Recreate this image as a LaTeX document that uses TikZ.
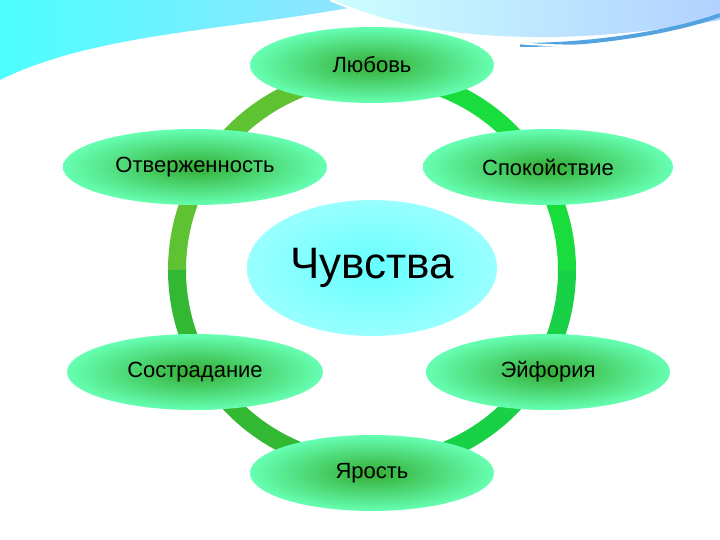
\documentclass[tikz,border=0pt]{standalone}
\usepackage{fontspec}
\setmainfont{Liberation Sans}
\usetikzlibrary{shapes.geometric}
\begin{document}
\begin{tikzpicture}[x=1pt,y=-1pt,
  emo/.style={ellipse,inner sep=0pt,minimum width=#1,minimum height=76pt,
    inner color=green!60!black!80!white,outer color=green!50!cyan!60!white,
    font=\fontsize{22}{26}\selectfont},
  ]
\useasboundingbox (0,0) rectangle (720,540);
\fill[white] (0,0) rectangle (720,540);
% background waves
\shade[left color=cyan!70!white, right color=blue!30!cyan!40!white]
  (0,0) -- (390,0) .. controls (250,30) and (100,30) .. (0,80) -- cycle;
\shade[left color=cyan!20!white, right color=cyan!40!blue!30!white]
  (330,0) .. controls (400,30) and (520,55) .. (720,20) -- (720,0) -- cycle;
\draw[line width=4pt,cyan!70!blue!70!white] (520,45) .. controls (600,45) and (680,30) .. (720,15);
\draw[line width=2pt,white] (330,0) .. controls (400,30) and (500,50) .. (620,45);
% ring
\draw[line width=18pt,green!60!lime!70!black!80] (372,270) ++(180:195) arc (180:270:195);
\draw[line width=18pt,green!70!teal!90] (372,270) ++(270:195) arc (270:360:195);
\draw[line width=18pt,green!60!teal!90] (372,270) ++(0:195) arc (0:90:195);
\draw[line width=18pt,green!65!black!80] (372,270) ++(90:195) arc (90:180:195);
\node[emo=244pt] (lub) at (372,65) {Любовь};
\node[emo=264pt] (otv) at (195,167) {Отверженность};
\node[emo=250pt] (spo) at (548,167) {Спокойствие};
\node[emo=256pt] (sos) at (195,372) {Сострадание};
\node[emo=244pt] (eif) at (548,372) {Эйфория};
\node[emo=244pt] (yar) at (372,473) {Ярость};
\node[ellipse,inner sep=0pt,minimum width=250pt,minimum height=136pt,
  inner color=cyan!60!white,outer color=cyan!40!white,
  font=\fontsize{44}{50}\selectfont] (ch) at (372,268) {Чувства};
\end{tikzpicture}
\end{document}
